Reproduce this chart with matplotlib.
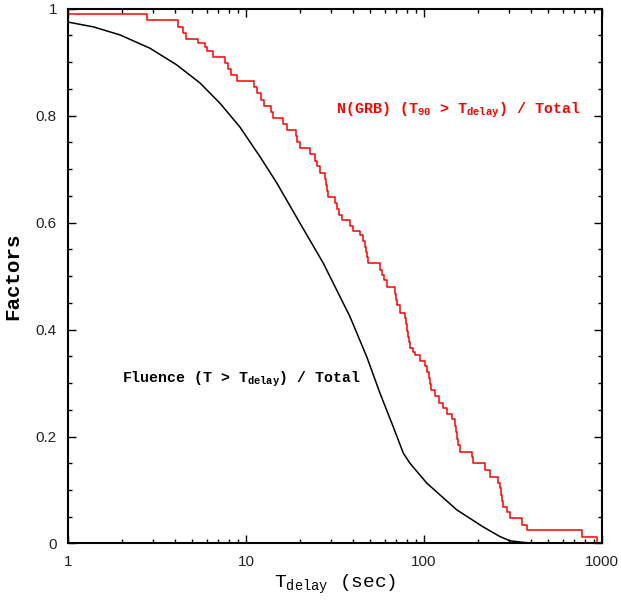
import matplotlib
matplotlib.use('Agg')
import numpy as np
import matplotlib.pyplot as plt
from matplotlib.ticker import MultipleLocator, LogLocator, FixedLocator, NullFormatter

# %% data
# fluence fraction (black, smooth)
flu_t = [1.0, 1.39, 1.96, 2.89, 4.08, 5.52, 7.15, 9.23, 12.0, 14.9, 20.1, 27.2,
         38.4, 47.7, 56.6, 67.2, 76.5, 83.4, 103.6, 152.6, 215, 267, 304, 362, 420, 1000]
flu_f = [0.975, 0.966, 0.951, 0.926, 0.895, 0.861, 0.823, 0.779, 0.723, 0.674, 0.599, 0.524,
         0.424, 0.349, 0.281, 0.218, 0.169, 0.150, 0.113, 0.063, 0.031, 0.013, 0.005, 0.002, 0.0, 0.0]

# N(GRB) fraction with T90 > Tdelay (red, steps)
grb_t = [1.0, 2.77, 4.17, 4.44, 4.6, 5.4, 5.88, 6.0, 6.55, 7.62, 7.96, 8.2, 8.87,
         11.1, 11.5, 12.2, 12.6, 13.9, 14.2, 16.1, 16.9, 19.1, 19.4, 20.1,
         22.9, 24.4, 25.2, 26.0, 27.8, 28.1, 28.4, 28.9, 31.6, 32.3, 33.5, 34.5,
         38.4, 40.1, 43.7, 45.6, 46.5, 47.0, 47.6, 48.7, 56.6, 57.8, 59.5, 61.7,
         68.7, 69.5, 70.2, 73.3, 78.2, 79.5, 80.5, 81.6, 82.5, 83.4, 87.0, 89.0,
         95.0, 101, 104, 106, 108, 110, 115, 122, 128, 134, 143, 149, 151, 153,
         156, 159, 185, 189, 220, 235, 261, 267, 272, 276, 279, 292, 304, 354,
         378, 769, 933]
grb_f = [0.990, 0.978, 0.966, 0.955, 0.943, 0.935, 0.929, 0.920, 0.910, 0.898, 0.887,
         0.876, 0.865, 0.854, 0.842, 0.830, 0.818, 0.807, 0.796, 0.785, 0.773, 0.762,
         0.750, 0.739, 0.728, 0.716, 0.705, 0.693, 0.682, 0.670, 0.659, 0.648, 0.637,
         0.626, 0.614, 0.605, 0.594, 0.585, 0.577, 0.565, 0.555, 0.545, 0.535, 0.524,
         0.512, 0.502, 0.493, 0.480, 0.467, 0.456, 0.446, 0.431, 0.421, 0.410, 0.398,
         0.387, 0.376, 0.366, 0.359, 0.352, 0.342, 0.331, 0.320, 0.309, 0.298, 0.287,
         0.276, 0.263, 0.254, 0.243, 0.232, 0.220, 0.208, 0.196, 0.184, 0.172, 0.161,
         0.150, 0.137, 0.125, 0.114, 0.103, 0.091, 0.080, 0.069, 0.058, 0.047, 0.035,
         0.025, 0.013, 0.0]

xticks = [1, 10, 100, 1000]
xticklabels = ['1', '10', '100', '1000']
yticks = [0, 0.2, 0.4, 0.6, 0.8, 1.0]
yticklabels = ['0', '0.2', '0.4', '0.6', '0.8', '1']

# %%
fig = plt.figure(figsize=(6.21, 6.01), dpi=100)
ax = fig.add_axes([0.1095, 0.0957, 0.8599, 0.8898])

ax.plot(flu_t, flu_f, color='k', lw=1.1)
ax.step(grb_t + [1000], grb_f + [0.0], where='post', color='#ff0000', lw=1.1)

ax.set_xscale('log')
ax.set_xlim(1, 1000)
ax.set_ylim(0, 1)

ax.xaxis.set_major_locator(FixedLocator(xticks))
ax.set_xticklabels(xticklabels)
ax.xaxis.set_minor_locator(LogLocator(base=10, subs=np.arange(2, 10)))
ax.xaxis.set_minor_formatter(NullFormatter())
ax.yaxis.set_major_locator(FixedLocator(yticks))
ax.set_yticklabels(yticklabels)
ax.yaxis.set_minor_locator(MultipleLocator(0.05))

ax.tick_params(which='both', direction='in', top=True, right=True, width=1.0,
               labelsize=11, colors='k')
ax.tick_params(which='major', length=6, pad=8)
ax.tick_params(which='minor', length=3)
for lab in ax.get_xticklabels() + ax.get_yticklabels():
    lab.set_fontfamily('Liberation Sans')
    lab.set_color('#222222')
for s in ax.spines.values():
    s.set_linewidth(1.5)

mono = 'Liberation Mono'
ax.set_xlabel(r'T$_{\mathdefault{delay}}$ (sec)', family=mono, fontsize=14, labelpad=3)
ax.set_ylabel('Factors', family=mono, fontsize=15, fontweight='bold', labelpad=10)

ax.text(2.0, 0.307, r'Fluence (T > T$_{\mathdefault{delay}}$) / Total',
        family=mono, fontweight='bold', fontsize=10.7, color='k', va='center')
ax.text(32, 0.81, r'N(GRB) (T$_{\mathdefault{90}}$ > T$_{\mathdefault{delay}}$) / Total',
        family=mono, fontweight='bold', fontsize=10.8, color='#ff0000', va='center')

fig.savefig('out.png', dpi=100)
